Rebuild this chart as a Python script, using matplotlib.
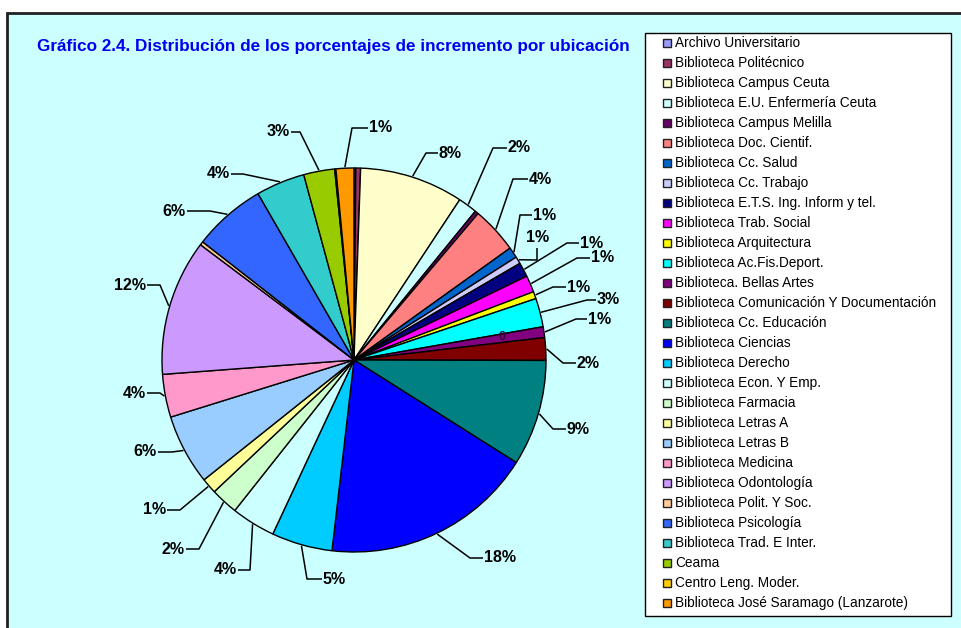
import matplotlib
matplotlib.use('Agg')
import matplotlib.pyplot as plt
from matplotlib.patches import Rectangle
import math

plt.rcParams['font.family'] = ['Liberation Sans', 'DejaVu Sans']

title = "Gráfico 2.4. Distribución de los porcentajes de incremento por ubicación"

categories = [
    "Archivo Universitario", "Biblioteca Politécnico", "Biblioteca Campus Ceuta",
    "Biblioteca E.U. Enfermería Ceuta", "Biblioteca Campus Melilla",
    "Biblioteca Doc. Cientif.", "Biblioteca Cc. Salud", "Biblioteca Cc. Trabajo",
    "Biblioteca E.T.S. Ing. Inform y tel.", "Biblioteca Trab. Social",
    "Biblioteca Arquitectura", "Biblioteca Ac.Fis.Deport.", "Biblioteca. Bellas Artes",
    "Biblioteca Comunicación Y Documentación", "Biblioteca Cc. Educación",
    "Biblioteca Ciencias", "Biblioteca Derecho", "Biblioteca Econ. Y Emp.",
    "Biblioteca Farmacia", "Biblioteca Letras A", "Biblioteca Letras B",
    "Biblioteca Medicina", "Biblioteca Odontología", "Biblioteca Polit. Y Soc.",
    "Biblioteca Psicología", "Biblioteca Trad. E Inter.", "Ceama",
    "Centro Leng. Moder.", "Biblioteca José Saramago (Lanzarote)",
]

values = [0.15, 0.4, 8.7, 1.6, 0.3, 3.9, 0.9, 0.6, 1.2, 1.4, 0.6, 2.4, 0.9, 1.9,
          8.9, 17.8, 5.1, 3.7, 2.3, 1.3, 5.9, 3.6, 11.4, 0.3, 6.1, 4.1, 2.6, 0.1, 1.5]

pct_labels = ['', '', '8%', '2%', '', '4%', '1%', '1%', '1%', '1%', '1%', '3%', '1%',
              '2%', '9%', '18%', '5%', '4%', '2%', '1%', '6%', '4%', '12%', '', '6%',
              '4%', '3%', '', '1%']

colors = ['#9999FF', '#993366', '#FFFFCC', '#CCFFFF', '#660066', '#FF8080', '#0066CC',
          '#CCCCFF', '#000080', '#FF00FF', '#FFFF00', '#00FFFF', '#800080', '#800000',
          '#008080', '#0000FF', '#00CCFF', '#CCFFFF', '#CCFFCC', '#FFFF99', '#99CCFF',
          '#FF99CC', '#CC99FF', '#FFCC99', '#3366FF', '#33CCCC', '#99CC00', '#FFCC00',
          '#FF9900']

# label layout (pixel coords): index -> (elbow_x, elbow_y, text_x, text_y, ha)
label_layout = {
    2: (426, 153, 438, 153, 'left'),
    3: (493, 148, 507, 148, 'left'),
    5: (513, 179, 528, 179, 'left'),
    6: (520, 215, 532, 215, 'left'),
    7: (537, 260, 538, 238, 'center'),
    8: (567, 243, 579, 243, 'left'),
    9: (577, 258, 590, 258, 'left'),
    10: (553, 287, 566, 287, 'left'),
    11: (587, 300, 596, 300, 'left'),
    12: (576, 319, 587, 319, 'left'),
    13: (563, 363, 576, 363, 'left'),
    14: (553, 429, 566, 429, 'left'),
    15: (470, 558, 483, 558, 'left'),
    16: (307, 579, 322, 579, 'left'),
    17: (250, 570, 238, 570, 'right'),
    18: (199, 549, 186, 549, 'right'),
    19: (180, 510, 167, 510, 'right'),
    20: (172, 452, 158, 452, 'right'),
    21: (160, 393, 147, 393, 'right'),
    22: (160, 285, 147, 285, 'right'),
    24: (210, 211, 187, 211, 'right'),
    25: (243, 174, 231, 174, 'right'),
    26: (300, 132, 291, 132, 'right'),
    28: (352, 128, 368, 128, 'left'),
}

W, H = 962, 628
fig = plt.figure(figsize=(W / 100, H / 100), dpi=100)
fig.patch.set_facecolor('white')
ax = fig.add_axes([0, 0, 1, 1])

# chart area background
ax.add_patch(Rectangle((7, 13), 1000, 700, facecolor='#CCFFFF', edgecolor='#202020',
                       linewidth=2, zorder=0))

cx, cy, r = 354, 360, 192
wedges, _ = ax.pie(values, colors=colors, startangle=-90, counterclock=True,
                   center=(cx, cy), radius=r,
                   wedgeprops=dict(edgecolor='black', linewidth=1.0))
for w in wedges:
    w.set_zorder(2)

ax.set_xlim(0, W)
ax.set_ylim(H, 0)
ax.set_aspect('auto')
ax.axis('off')

for i, w in enumerate(wedges):
    lab = pct_labels[i]
    if not lab or i not in label_layout:
        continue
    ex, ey, tx, ty, ha = label_layout[i]
    th = math.radians((w.theta1 + w.theta2) / 2)
    axp = cx + (r + 1) * math.cos(th)
    ayp = cy + (r + 1) * math.sin(th)
    if ha == 'center':
        xs, ys = [axp, ex, ex], [ayp, ey, ty + 10]
    else:
        xs, ys = [axp, ex, tx], [ayp, ey, ty]
    ax.plot(xs, ys, color='black', linewidth=1.1, zorder=3, solid_capstyle='butt')
    tpos = tx + (1 if ha == 'left' else (-1 if ha == 'right' else 0))
    ax.text(tpos, ty, lab, ha=ha, va='center', fontsize=11.5, fontweight='bold',
            color='black', zorder=4)

# stray data label inside the Bellas Artes slice
ax.text(502, 337, '0', ha='center', va='center', fontsize=9, fontweight='bold',
        color='#3a003a', zorder=4)

# title
ax.text(37, 46, title, ha='left', va='center', fontsize=12.3, fontweight='bold',
        color='#0000EE', zorder=4)

# legend
ax.add_patch(Rectangle((645, 33), 306, 583, facecolor='white', edgecolor='black',
                       linewidth=1.0, zorder=3))
for i, (name, col) in enumerate(zip(categories, colors)):
    y = 43 + i * 20.0
    ax.add_patch(Rectangle((663, y - 4), 8, 8, facecolor=col, edgecolor='#202020',
                           linewidth=1.0, zorder=4))
    ax.text(675, y, name, ha='left', va='center', fontsize=9.8, color='black', zorder=4)

fig.savefig('out.png', dpi=100, facecolor=fig.get_facecolor())
